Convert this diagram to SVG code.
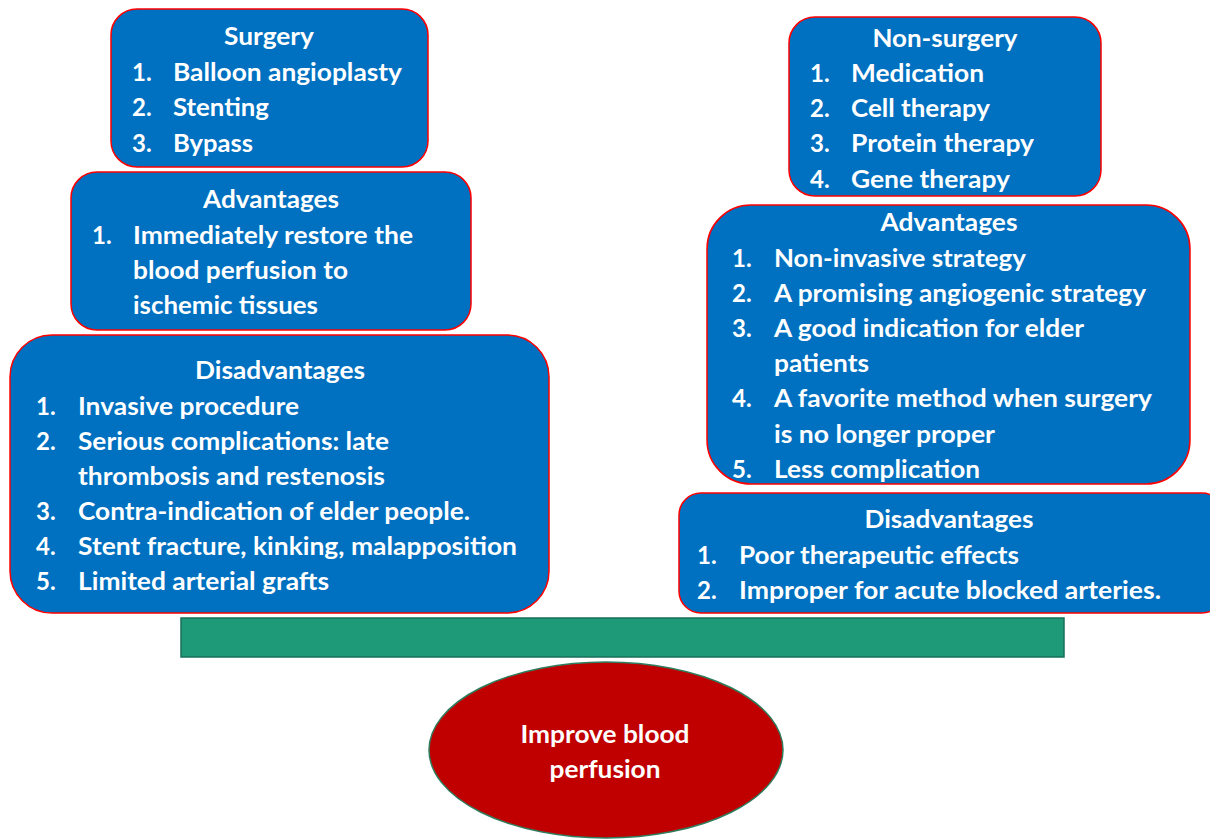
<svg xmlns="http://www.w3.org/2000/svg" width="1210" height="840" viewBox="0 0 1210 840">
<style>
.box{fill:#0070c0;stroke:#ff0000;stroke-width:1.5}
text{font-family:Lato,"Open Sans","Liberation Sans",sans-serif;font-weight:bold;font-size:24px;fill:#ffffff}
.t{text-anchor:middle}
</style>
<rect width="1210" height="840" fill="#ffffff"/>
<g id="surgery">
<rect class="box" x="111" y="9" width="317" height="158" rx="26"/>
<text class="t" x="269" y="45" textLength="90" lengthAdjust="spacingAndGlyphs">Surgery</text>
<text x="132" y="81">1.</text><text x="173" y="81" textLength="229" lengthAdjust="spacingAndGlyphs">Balloon angioplasty</text>
<text x="132" y="116">2.</text><text x="173" y="116" textLength="96" lengthAdjust="spacingAndGlyphs">Stenting</text>
<text x="132" y="152">3.</text><text x="173" y="152" textLength="80" lengthAdjust="spacingAndGlyphs">Bypass</text>
</g>
<g id="surgery-advantages">
<rect class="box" x="71" y="172" width="400" height="158" rx="26"/>
<text class="t" x="271" y="208" textLength="136" lengthAdjust="spacingAndGlyphs">Advantages</text>
<text x="92" y="244">1.</text><text x="133" y="244" textLength="280" lengthAdjust="spacingAndGlyphs">Immediately restore the</text>
<text x="133" y="279" textLength="215" lengthAdjust="spacingAndGlyphs">blood perfusion to</text>
<text x="133" y="314" textLength="185" lengthAdjust="spacingAndGlyphs">ischemic tissues</text>
</g>
<g id="surgery-disadvantages">
<rect class="box" x="10" y="335" width="539" height="278" rx="42"/>
<text class="t" x="280" y="379" textLength="170" lengthAdjust="spacingAndGlyphs">Disadvantages</text>
<text x="36" y="415">1.</text><text x="78" y="415" textLength="221" lengthAdjust="spacingAndGlyphs">Invasive procedure</text>
<text x="36" y="450">2.</text><text x="78" y="450" textLength="311" lengthAdjust="spacingAndGlyphs">Serious complications: late</text>
<text x="78" y="485" textLength="307" lengthAdjust="spacingAndGlyphs">thrombosis and restenosis</text>
<text x="36" y="520">3.</text><text x="78" y="520" textLength="392" lengthAdjust="spacingAndGlyphs">Contra-indication of elder people.</text>
<text x="36" y="555">4.</text><text x="78" y="555" textLength="439" lengthAdjust="spacingAndGlyphs">Stent fracture, kinking, malapposition</text>
<text x="36" y="590">5.</text><text x="78" y="590" textLength="251" lengthAdjust="spacingAndGlyphs">Limited arterial grafts</text>
</g>
<g id="non-surgery">
<rect class="box" x="789" y="17" width="312" height="179" rx="26"/>
<text class="t" x="945" y="47" textLength="145" lengthAdjust="spacingAndGlyphs">Non-surgery</text>
<text x="810" y="82">1.</text><text x="851" y="82" textLength="133" lengthAdjust="spacingAndGlyphs">Medication</text>
<text x="810" y="117">2.</text><text x="851" y="117" textLength="139" lengthAdjust="spacingAndGlyphs">Cell therapy</text>
<text x="810" y="152">3.</text><text x="851" y="152" textLength="183" lengthAdjust="spacingAndGlyphs">Protein therapy</text>
<text x="810" y="188">4.</text><text x="851" y="188" textLength="159" lengthAdjust="spacingAndGlyphs">Gene therapy</text>
</g>
<g id="non-surgery-advantages">
<rect class="box" x="707" y="205" width="483" height="279" rx="44"/>
<text class="t" x="949" y="231" textLength="137" lengthAdjust="spacingAndGlyphs">Advantages</text>
<text x="732" y="267">1.</text><text x="774" y="267" textLength="252" lengthAdjust="spacingAndGlyphs">Non-invasive strategy</text>
<text x="732" y="302">2.</text><text x="774" y="302" textLength="372" lengthAdjust="spacingAndGlyphs">A promising angiogenic strategy</text>
<text x="732" y="337">3.</text><text x="774" y="337" textLength="310" lengthAdjust="spacingAndGlyphs">A good indication for elder</text>
<text x="774" y="372" textLength="95" lengthAdjust="spacingAndGlyphs">patients</text>
<text x="732" y="407">4.</text><text x="774" y="407" textLength="378" lengthAdjust="spacingAndGlyphs">A favorite method when surgery</text>
<text x="774" y="443" textLength="221" lengthAdjust="spacingAndGlyphs">is no longer proper</text>
<text x="732" y="478">5.</text><text x="774" y="478" textLength="206" lengthAdjust="spacingAndGlyphs">Less complication</text>
</g>
<g id="non-surgery-disadvantages">
<rect class="box" x="679" y="493" width="545" height="120" rx="22"/>
<text class="t" x="949" y="528" textLength="169" lengthAdjust="spacingAndGlyphs">Disadvantages</text>
<text x="697" y="564">1.</text><text x="739" y="564" textLength="280" lengthAdjust="spacingAndGlyphs">Poor therapeutic effects</text>
<text x="697" y="599">2.</text><text x="739" y="599" textLength="422" lengthAdjust="spacingAndGlyphs">Improper for acute blocked arteries.</text>
</g>
<g id="balance-bar">
<rect x="181" y="618" width="883" height="39" fill="#1e9a78" stroke="#17705a" stroke-width="1.5"/>
</g>
<g id="goal">
<ellipse cx="606" cy="750" rx="177" ry="88" fill="#c00000" stroke="#2e7d5e" stroke-width="1.5"/>
<text class="t" x="605" y="743" textLength="169" lengthAdjust="spacingAndGlyphs">Improve blood</text>
<text class="t" x="605" y="778" textLength="111" lengthAdjust="spacingAndGlyphs">perfusion</text>
</g>
<g id="connectors"></g>
</svg>
